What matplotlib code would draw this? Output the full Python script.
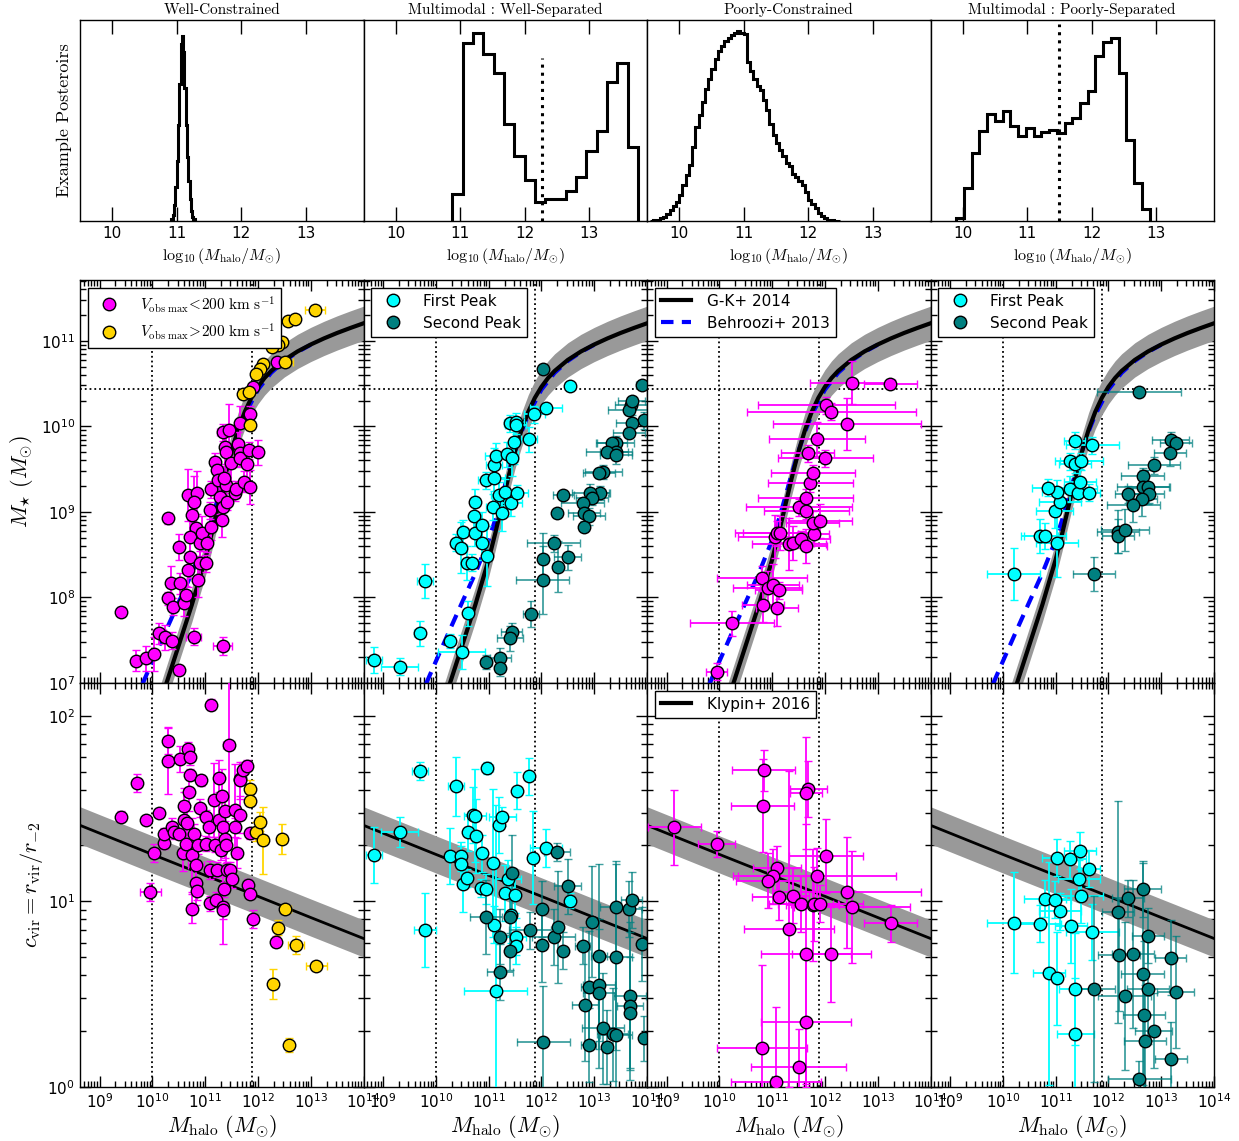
"""Halo-mass posteriors, stellar-mass/halo-mass and concentration/halo-mass
panels for the four posterior classes."""
import numpy as np
import matplotlib
matplotlib.use("Agg")
import matplotlib.pyplot as plt
from matplotlib.lines import Line2D
from matplotlib.ticker import LogLocator, NullFormatter, FixedLocator

# ---------------------------------------------------------------- posteriors
# normalised step-histogram heights (fraction of panel height), log10 Mhalo bins
post_wc_edges = np.arange(10.90, 11.301, 0.02)
post_wc = [0.0, 0.01, 0.03, 0.08, 0.17, 0.30, 0.48, 0.68, 0.88, 0.92,
           0.84, 0.66, 0.48, 0.32, 0.20, 0.11, 0.05, 0.02, 0.01, 0.0]

post_mws_edges = np.arange(10.88, 13.77, 0.16)
post_mws = [0.132, 0.886, 0.936, 0.831, 0.736, 0.484, 0.324, 0.203, 0.096,
            0.107, 0.111, 0.150, 0.217, 0.349, 0.446, 0.691, 0.787, 0.369]
post_mws_split = 12.27

post_pc_edges = np.arange(9.55, 12.501, 0.05)
post_pc = [0.002, 0.003, 0.007, 0.013, 0.021, 0.035, 0.055, 0.074, 0.096, 0.129,
           0.179, 0.228, 0.278, 0.369, 0.468, 0.526, 0.592, 0.658, 0.707, 0.757,
           0.807, 0.848, 0.873, 0.894, 0.911, 0.924, 0.937, 0.944, 0.934, 0.931,
           0.790, 0.745, 0.707, 0.674, 0.653, 0.600, 0.550, 0.481, 0.426, 0.388,
           0.355, 0.322, 0.289, 0.273, 0.236, 0.217, 0.200, 0.179, 0.145, 0.104,
           0.084, 0.063, 0.038, 0.025, 0.013, 0.007, 0.003, 0.002, 0.0]

post_mps_edges = np.arange(9.90, 12.91, 0.12)
post_mps = [0.013, 0.162, 0.340, 0.446, 0.531, 0.498, 0.547, 0.473, 0.421,
            0.463, 0.421, 0.445, 0.451, 0.438, 0.488, 0.512, 0.587, 0.645,
            0.820, 0.889, 0.909, 0.736, 0.402, 0.190, 0.058]
post_mps_split = 11.50

# ------------------------------------------------------------ model relations
gk_logmh = [9.8, 10.0, 10.25, 10.5, 10.75, 11.0, 11.125, 11.25, 11.375, 11.5,
            11.625, 11.75, 11.875, 12.0, 12.125, 12.25, 12.5, 12.75, 13.0,
            13.25, 13.5, 13.75, 14.0]
gk_logms = [6.10, 6.485, 6.964, 7.440, 7.917, 8.441, 8.748, 9.078, 9.406, 9.706,
            9.961, 10.168, 10.332, 10.461, 10.564, 10.647, 10.776, 10.875, 10.956,
            11.027, 11.091, 11.149, 11.204]
gk_scatter = 0.2

b13_logmh = [9.5, 9.75, 10.0, 10.25, 10.5, 10.75, 11.0, 11.125, 11.25, 11.375,
             11.5, 11.625, 11.75, 12.0, 12.25, 12.5, 12.75, 13.0]
b13_logms = [6.548, 6.900, 7.252, 7.601, 7.945, 8.285, 8.670, 8.909, 9.176, 9.450,
             9.709, 9.939, 10.134, 10.428, 10.625, 10.764, 10.869, 10.953]

k16_logmh = [8.6, 10.0, 11.0, 12.0, 13.0, 14.0]
k16_logc = [1.413, 1.253, 1.140, 1.027, 0.913, 0.800]
k16_scatter = 0.1

mh_ref = [10.0, 11.88]
ms_ref = 10.44

# ----------------------------------------------------------- galaxy samples
# columns: log Mhalo, log Mstar (or log c), error in log Mhalo, error in log y
wc_slow_ms = np.array([
    [9.402, 7.833, 0.0, 0.05], [9.693, 7.261, 0.0, 0.12], [9.876, 7.288, 0.0, 0.15],
    [10.034, 7.339, 0.0, 0.2], [10.135, 7.58, 0.12, 0.12], [10.243, 7.533, 0.05, 0.15],
    [10.369, 7.495, 0.0, 0.1], [10.306, 7.989, 0.0, 0.08], [10.401, 7.892, 0.0, 0.1],
    [10.496, 7.152, 0.05, 0.05], [10.781, 7.541, 0.15, 0.1], [11.331, 7.432, 0.18, 0.1],
    [10.306, 8.924, 0.0, 0.06], [10.496, 8.593, 0.0, 0.15], [10.35, 8.164, 0.0, 0.2],
    [10.528, 8.164, 0.0, 0.12], [10.591, 7.931, 0.0, 0.15], [10.641, 8.028, 0.0, 0.1],
    [10.673, 8.32, 0.0, 0.2], [10.717, 8.476, 0.0, 0.25], [10.667, 9.196, 0.0, 0.3],
    [10.844, 9.224, 0.0, 0.25], [10.781, 9.118, 0.0, 0.3], [10.749, 8.963, 0.0, 0.2],
    [10.831, 8.807, 0.0, 0.15], [10.717, 8.709, 0.0, 0.25], [10.907, 8.632, 0.0, 0.15],
    [10.939, 8.748, 0.0, 0.2], [10.894, 8.398, 0.0, 0.15], [10.856, 8.203, 0.0, 0.2],
    [11.021, 8.398, 0.0, 0.1], [11.033, 8.632, 0.0, 0.1], [11.109, 8.826, 0.0, 0.15],
    [11.084, 9.021, 0.0, 0.1], [11.109, 9.262, 0.1, 0.1], [11.192, 9.586, 0.0, 0.1],
    [11.223, 9.488, 0.0, 0.12], [11.236, 9.371, 0.0, 0.15], [11.287, 9.177, 0.0, 0.2],
    [11.318, 8.904, 0.0, 0.2], [11.337, 9.06, 0.0, 0.1], [11.413, 9.118, 0.0, 0.1],
    [11.388, 9.313, 0.0, 0.15], [11.362, 9.391, 0.0, 0.15], [11.331, 9.928, 0.1, 0.1],
    [11.445, 9.956, 0.1, 0.3], [11.381, 9.761, 0.0, 0.2], [11.394, 9.694, 0.0, 0.25],
    [11.495, 9.566, 0.0, 0.2], [11.559, 9.224, 0.0, 0.1], [11.578, 9.262, 0.0, 0.1],
    [11.616, 9.788, 0.0, 0.15], [11.653, 10.033, 0.0, 0.2], [11.666, 9.683, 0.0, 0.15],
    [11.653, 9.625, 0.0, 0.1], [11.729, 9.352, 0.0, 0.12], [11.792, 9.558, 0.0, 0.2],
    [11.824, 9.722, 0.0, 0.1], [11.856, 9.294, 0.0, 0.2], [11.843, 10.143, 0.0, 0.1],
    [11.995, 9.694, 0.0, 0.15], [11.906, 10.462, 0.0, 0.05], [12.362, 10.754, 0.0, 0.05],
])
wc_fast_ms = np.array([
    [13.09, 11.365, 0.19, 0.0], [12.564, 11.233, 0.0, 0.0], [12.71, 11.252, 0.0, 0.0],
    [12.457, 10.988, 0.0, 0.0], [12.374, 10.949, 0.0, 0.0], [12.267, 10.929, 0.0, 0.0],
    [12.096, 10.727, 0.0, 0.05], [12.033, 10.668, 0.0, 0.0], [11.97, 10.606, 0.0, 0.0],
    [12.52, 10.746, 0.15, 0.0], [11.717, 10.376, 0.0, 0.0], [11.824, 10.403, 0.0, 0.0],
    [11.843, 10.014, 0.0, 0.06],
])
wc_slow_c = np.array([
    [9.408, 1.457, 0.0, 0.03], [9.705, 1.637, 0.0, 0.05], [9.876, 1.439, 0.0, 0.02],
    [9.958, 1.051, 0.2, 0.05], [10.04, 1.260, 0.0, 0.05], [10.135, 1.475, 0.0, 0.02],
    [10.23, 1.314, 0.0, 0.03], [10.23, 1.364, 0.0, 0.03], [10.306, 1.862, 0.0, 0.07],
    [10.306, 1.757, 0.0, 0.18], [10.369, 1.398, 0.0, 0.05], [10.413, 1.376, 0.0, 0.04],
    [10.496, 1.364, 0.0, 0.03], [10.515, 1.768, 0.0, 0.07], [10.578, 1.263, 0.0, 0.1],
    [10.591, 1.439, 0.0, 0.15], [10.604, 1.511, 0.0, 0.1], [10.629, 1.31, 0.0, 0.08],
    [10.654, 1.421, 0.0, 0.1], [10.667, 1.82, 0.0, 0.04], [10.686, 1.587, 0.0, 0.1],
    [10.717, 1.777, 0.0, 0.04], [10.717, 1.682, 0.0, 0.03], [10.749, 0.961, 0.0, 0.08],
    [10.749, 1.251, 0.0, 0.2], [10.793, 1.364, 0.0, 0.05], [10.831, 1.197, 0.15, 0.1],
    [10.831, 1.098, 0.0, 0.12], [10.844, 1.058, 0.0, 0.05], [10.856, 1.305, 0.0, 0.05],
    [10.907, 1.502, 0.0, 0.05], [10.926, 1.651, 0.0, 0.03], [11.015, 1.452, 0.0, 0.04],
    [11.015, 1.31, 0.0, 0.04], [11.065, 1.398, 0.0, 0.05], [11.097, 1.17, 0.0, 0.05],
    [11.097, 0.99, 0.0, 0.04], [11.109, 2.059, 0.0, 0.03], [11.173, 1.547, 0.0, 0.2],
    [11.192, 1.305, 0.0, 0.04], [11.211, 1.008, 0.0, 0.04], [11.223, 1.17, 0.12, 0.04],
    [11.255, 1.664, 0.0, 0.1], [11.255, 1.439, 0.0, 0.15], [11.299, 1.274, 0.0, 0.05],
    [11.318, 1.565, 0.0, 0.15], [11.337, 1.4, 0.0, 0.1], [11.35, 1.066, 0.0, 0.04],
    [11.337, 0.969, 0.1, 0.2], [11.337, 0.954, 0.0, 0.05], [11.369, 1.488, 0.0, 0.08],
    [11.381, 1.335, 0.0, 0.1], [11.394, 1.305, 0.0, 0.1], [11.413, 1.17, 0.0, 0.04],
    [11.445, 1.84, 0.1, 0.35], [11.464, 1.17, 0.0, 0.04], [11.508, 1.12, 0.0, 0.05],
    [11.559, 1.398, 0.0, 0.05], [11.571, 1.49, 0.0, 0.25], [11.603, 1.26, 0.0, 0.08],
    [11.654, 1.659, 0.0, 0.03], [11.666, 1.651, 0.0, 0.1], [11.666, 1.466, 0.0, 0.1],
    [11.717, 1.709, 0.0, 0.04], [11.792, 1.73, 0.0, 0.03], [11.805, 1.089, 0.0, 0.03],
    [11.843, 1.04, 0.0, 0.03], [11.856, 1.367, 0.0, 0.03], [11.906, 0.906, 0.0, 0.05],
    [12.349, 0.782, 0.0, 0.03],
])
wc_fast_c = np.array([
    [11.843, 1.606, 0.0, 0.05], [11.843, 1.542, 0.0, 0.03], [11.97, 1.376, 0.0, 0.05],
    [12.046, 1.43, 0.0, 0.05], [12.096, 1.328, 0.0, 0.18], [12.457, 1.337, 0.0, 0.08],
    [12.52, 0.961, 0.1, 0.0], [12.38, 0.859, 0.0, 0.04], [12.729, 0.765, 0.15, 0.05],
    [13.108, 0.652, 0.2, 0.0], [12.286, 0.555, 0.0, 0.08], [12.583, 0.226, 0.0, 0.04],
])

mws_first_ms = np.array([
    [8.826, 7.269, 0.15, 0.15], [9.32, 7.191, 0.35, 0.1], [9.794, 8.195, 0.15, 0.2],
    [9.693, 7.58, 0.1, 0.15], [10.268, 7.491, 0.1, 0.08], [10.49, 7.366, 0.45, 0.2],
    [10.616, 7.814, 0.0, 0.15], [10.388, 8.639, 0.1, 0.1], [10.483, 8.581, 0.1, 0.3],
    [10.515, 8.76, 0.1, 0.15], [10.597, 8.406, 0.0, 0.2], [10.692, 8.406, 0.0, 0.1],
    [10.743, 8.748, 0.1, 0.15], [10.724, 8.951, 0.0, 0.15], [10.737, 9.118, 0.0, 0.15],
    [10.882, 8.846, 0.1, 0.15], [10.882, 8.632, 0.1, 0.2], [10.977, 8.484, 0.0, 0.35],
    [10.945, 9.371, 0.15, 0.1], [11.091, 9.06, 0.15, 0.15], [11.103, 9.391, 0.2, 0.15],
    [11.103, 9.547, 0.15, 0.2], [11.135, 9.652, 0.2, 0.15], [11.198, 9.196, 0.15, 0.15],
    [11.262, 8.982, 0.1, 0.2], [11.306, 9.235, 0.1, 0.15], [11.357, 9.671, 0.2, 0.15],
    [11.432, 9.099, 0.2, 0.15], [11.451, 9.625, 0.1, 0.2], [11.483, 9.812, 0.1, 0.25],
    [11.40, 10.033, 0.1, 0.1], [11.515, 10.053, 0.15, 0.1], [11.515, 10.014, 0.2, 0.1],
    [11.547, 9.216, 0.2, 0.1], [11.767, 9.847, 0.15, 0.15], [11.862, 10.143, 0.2, 0.1],
    [12.084, 10.217, 0.3, 0.05], [12.545, 10.474, 0.1, 0.0],
])
mws_second_ms = np.array([
    [12.033, 10.668, 0.0, 0.0], [13.899, 10.481, 0.1, 0.0], [13.696, 10.248, 0.3, 0.05],
    [13.664, 10.189, 0.4, 0.05], [13.709, 10.298, 0.25, 0.05], [13.937, 10.072, 0.2, 0.1],
    [13.709, 10.033, 0.3, 0.1], [13.664, 9.924, 0.3, 0.05], [13.412, 9.808, 0.35, 0.08],
    [13.33, 9.80, 0.3, 0.05], [13.418, 9.702, 0.3, 0.1], [13.241, 9.702, 0.4, 0.05],
    [13.418, 9.664, 0.3, 0.1], [13.171, 9.469, 0.35, 0.08], [13.095, 9.449, 0.3, 0.05],
    [13.108, 9.224, 0.2, 0.08], [12.925, 9.224, 0.35, 0.1], [12.956, 9.157, 0.3, 0.08],
    [12.779, 9.107, 0.4, 0.05], [12.412, 9.196, 0.2, 0.05], [12.811, 8.99, 0.3, 0.1],
    [12.906, 8.951, 0.3, 0.1], [12.811, 8.826, 0.0, 0.05], [12.292, 8.982, 0.0, 0.03],
    [12.229, 8.632, 0.5, 0.1], [12.027, 8.453, 0.0, 0.3], [12.495, 8.468, 0.25, 0.15],
    [12.318, 8.359, 0.0, 0.3], [12.027, 8.203, 0.5, 0.4], [11.799, 7.806, 0.15, 0.15],
    [11.438, 7.60, 0.2, 0.1], [11.406, 7.522, 0.25, 0.15], [11.217, 7.288, 0.2, 0.12],
    [11.217, 7.179, 0.0, 0.1], [10.958, 7.249, 0.1, 0.08],
])
mws_first_c = np.array([
    [8.826, 1.251, 0.15, 0.15], [9.32, 1.373, 0.35, 0.08], [9.693, 1.703, 0.15, 0.05],
    [9.794, 0.846, 0.2, 0.2], [10.268, 1.245, 0.0, 0.15], [10.388, 1.619, 0.15, 0.16],
    [10.483, 1.242, 0.0, 0.08], [10.483, 1.2, 0.0, 0.1], [10.515, 1.093, 0.0, 0.15],
    [10.597, 1.125, 0.0, 0.05], [10.616, 1.371, 0.0, 0.1], [10.705, 1.466, 0.1, 0.15],
    [10.743, 1.461, 0.2, 0.25], [10.756, 1.35, 0.0, 0.2], [10.882, 1.26, 0.0, 0.1],
    [10.85, 1.071, 0.1, 0.05], [10.945, 1.067, 0.1, 0.08], [10.977, 1.718, 0.1, 0.03],
    [11.091, 1.206, 0.0, 0.4], [11.103, 0.873, 0.1, 0.1], [11.135, 0.518, 0.6, 1.0],
    [11.198, 1.412, 0.0, 0.15], [11.262, 1.457, 0.25, 0.05], [11.306, 1.044, 0.0, 0.15],
    [11.369, 1.121, 0.25, 0.1], [11.42, 0.927, 0.0, 0.15], [11.496, 1.035, 0.0, 0.1],
    [11.515, 0.81, 0.2, 0.1], [11.515, 0.76, 0.0, 0.1], [11.547, 1.597, 0.0, 0.1],
    [11.767, 1.673, 0.0, 0.1], [11.85, 1.236, 0.0, 0.25], [12.084, 1.287, 0.3, 0.1],
    [12.545, 1.003, 0.0, 0.04],
])
mws_second_c = np.array([
    [10.945, 0.915, 0.3, 0.2], [11.217, 0.81, 0.0, 0.15], [11.217, 0.618, 0.25, 0.15],
    [11.40, 0.73, 0.0, 0.1], [11.438, 1.155, 0.0, 0.2], [11.406, 0.918, 0.0, 0.1],
    [11.786, 0.843, 0.4, 0.1], [12.02, 0.958, 0.0, 0.15], [12.02, 0.765, 0.0, 0.2],
    [12.039, 0.244, 0.5, 0.3], [12.229, 0.807, 0.4, 0.15], [12.318, 0.861, 0.0, 0.3],
    [12.292, 1.265, 0.25, 0.05], [12.412, 0.735, 0.0, 0.1], [12.495, 1.08, 0.25, 0.15],
    [12.779, 0.762, 0.15, 0.1], [12.824, 0.442, 0.25, 0.3], [12.906, 0.541, 0.15, 0.3],
    [12.893, 0.226, 0.15, 0.2], [12.956, 0.891, 0.0, 0.3], [13.095, 0.703, 0.15, 0.5],
    [13.095, 0.55, 0.3, 0.3], [13.095, 0.505, 0.3, 0.4], [13.171, 0.316, 0.4, 0.3],
    [13.241, 0.214, 0.0, 0.2], [13.348, 0.284, 0.3, 0.25], [13.412, 0.28, 0.3, 0.4],
    [13.412, 0.967, 0.3, 0.25], [13.412, 0.699, 0.3, 0.5], [13.664, 0.958, 0.25, 0.15],
    [13.709, 1.008, 0.2, 0.15], [13.683, 0.491, 0.3, 0.4], [13.683, 0.437, 0.25, 0.4],
    [13.683, 0.401, 0.0, 0.3], [13.905, 0.771, 0.0, 0.2], [13.937, 0.262, 0.0, 0.12],
])

pc_ms = np.array([
    [9.952, 7.132, 0.2, 0.1], [10.237, 7.697, 0.8, 0.15], [10.825, 7.911, 0.4, 0.2],
    [11.09, 7.872, 0.4, 0.2], [10.806, 8.223, 0.85, 0.15], [10.913, 8.106, 0.65, 0.2],
    [11.015, 8.145, 0.5, 0.25], [11.122, 8.086, 0.45, 0.1], [11.312, 8.624, 0.7, 0.3],
    [11.394, 8.639, 0.4, 0.2], [11.546, 8.678, 0.55, 0.1], [11.641, 8.6, 0.4, 0.2],
    [11.059, 8.71, 0.7, 0.25], [11.09, 8.748, 0.8, 0.15], [11.154, 8.756, 0.7, 0.2],
    [11.786, 8.741, 0.3, 0.1], [11.767, 8.865, 0.5, 0.15], [11.913, 8.896, 0.6, 0.2],
    [11.508, 9.052, 1.0, 0.1], [11.647, 9.013, 0.8, 0.1], [11.641, 9.165, 0.9, 0.1],
    [11.723, 9.333, 0.8, 0.1], [11.773, 9.449, 0.8, 0.1], [11.672, 9.683, 0.5, 0.1],
    [12.008, 9.625, 0.9, 0.1], [11.85, 9.85, 0.9, 0.2], [12.419, 10.026, 1.4, 0.3],
    [12.027, 10.248, 1.3, 0.1], [12.122, 10.17, 1.6, 0.1], [12.52, 10.512, 0.8, 0.25],
    [13.241, 10.493, 0.5, 0.0],
])
pc_c = np.array([
    [9.149, 1.398, 0.5, 0.2], [9.952, 1.308, 0.35, 0.07], [10.837, 1.705, 0.6, 0.11],
    [10.819, 1.515, 0.6, 0.25], [11.685, 1.606, 0.35, 0.15], [11.641, 1.583, 0.3, 0.3],
    [12.027, 1.245, 0.7, 0.2], [11.09, 1.179, 0.45, 0.12], [11.015, 1.134, 0.75, 0.15],
    [10.92, 1.112, 0.6, 0.15], [11.85, 1.138, 1.5, 0.15], [11.122, 1.021, 0.5, 0.12],
    [11.394, 1.031, 0.3, 0.15], [11.546, 0.987, 0.6, 0.15], [11.767, 0.981, 0.5, 0.3],
    [11.799, 0.987, 0.45, 0.2], [11.913, 0.987, 0.8, 0.1], [12.419, 1.048, 1.4, 0.3],
    [12.52, 0.969, 1.1, 0.3], [13.247, 0.882, 0.5, 0.1], [11.325, 0.85, 0.85, 0.85],
    [11.641, 0.717, 0.85, 0.7], [12.122, 0.717, 0.75, 0.26], [11.647, 0.352, 0.85, 0.35],
    [10.806, 0.208, 0.85, 0.45], [11.508, 0.11, 0.9, 0.2], [11.078, 0.029, 0.85, 0.4],
])

mps_first_ms = np.array([
    [10.205, 8.273, 0.5, 0.3], [10.698, 8.721, 0.35, 0.2], [10.806, 8.721, 0.4, 0.15],
    [11.027, 8.639, 0.4, 0.4], [10.983, 9.013, 0.35, 0.2], [11.078, 9.118, 0.4, 0.1],
    [11.034, 9.227, 0.3, 0.15], [10.856, 9.282, 0.3, 0.1], [11.28, 9.266, 0.5, 0.15],
    [11.432, 9.224, 0.3, 0.1], [11.634, 9.224, 0.2, 0.1], [11.457, 9.352, 0.3, 0.15],
    [11.28, 9.593, 0.3, 0.1], [11.369, 9.558, 0.3, 0.1], [11.489, 9.593, 0.4, 0.1],
    [11.363, 9.831, 0.2, 0.1], [11.697, 9.78, 0.5, 0.1],
])
mps_second_ms = np.array([
    [12.583, 10.403, 0.8, 0.0], [13.178, 9.839, 0.35, 0.1], [13.279, 9.8, 0.3, 0.05],
    [13.165, 9.683, 0.3, 0.15], [12.862, 9.547, 0.5, 0.1], [12.646, 9.418, 0.4, 0.1],
    [12.659, 9.294, 0.5, 0.2], [12.754, 9.294, 0.4, 0.2], [12.374, 9.208, 0.25, 0.1],
    [12.76, 9.204, 0.3, 0.1], [12.627, 9.149, 0.3, 0.2], [12.469, 9.079, 0.5, 0.2],
    [12.185, 8.768, 0.4, 0.25], [12.185, 8.717, 0.3, 0.2], [12.311, 8.787, 0.45, 0.25],
    [11.723, 8.273, 0.4, 0.2],
])
mps_first_c = np.array([
    [10.205, 0.886, 0.5, 0.27], [10.698, 0.879, 0.4, 0.1], [10.793, 1.013, 0.4, 0.1],
    [10.869, 0.613, 0.3, 0.6], [10.983, 1.008, 0.3, 0.1], [11.034, 1.236, 0.3, 0.1],
    [11.034, 0.586, 0.0, 0.25], [11.078, 0.947, 0.4, 0.1], [11.28, 1.227, 0.3, 0.1],
    [11.287, 0.868, 0.3, 0.2], [11.369, 0.527, 0.3, 0.3], [11.369, 0.286, 0.35, 0.3],
    [11.438, 1.121, 0.4, 0.1], [11.457, 1.272, 0.3, 0.1], [11.489, 1.031, 0.4, 0.15],
    [11.634, 1.175, 0.2, 0.1], [11.697, 0.834, 0.5, 0.15],
])
mps_second_c = np.array([
    [11.729, 0.527, 0.4, 0.5], [12.185, 0.943, 0.3, 0.6], [12.197, 0.71, 0.4, 0.3],
    [12.311, 0.491, 0.5, 0.4], [12.374, 1.017, 0.3, 0.1], [12.469, 0.717, 0.4, 0.4],
    [12.583, 0.041, 0.6, 0.1], [12.646, 1.067, 0.35, 0.15], [12.646, 0.609, 0.4, 0.6],
    [12.672, 0.388, 0.4, 0.4], [12.691, 0.25, 0.4, 0.3], [12.754, 0.816, 0.3, 0.15],
    [12.754, 0.53, 0.4, 0.3], [12.862, 0.304, 0.35, 0.2], [13.178, 0.697, 0.3, 0.2],
    [13.184, 0.149, 0.3, 0.2], [13.279, 0.512, 0.35, 0.3],
])

TITLES = ["Well-Constrained", "Multimodal : Well-Separated",
          "Poorly-Constrained", "Multimodal : Poorly-Separated"]

MAGENTA = "#ff00ff"
GOLD = "#ffd500"
CYAN = "#00ffff"
TEAL = "#008080"
BAND = "0.6"

MS = 9


def plot_points(ax, rows, color, ecolor, z=5):
    lx, ly, ex, ey = rows.T
    x, y = 10 ** lx, 10 ** ly
    xerr = [x - 10 ** (lx - ex), 10 ** (lx + ex) - x]
    yerr = [y - 10 ** (ly - ey), 10 ** (ly + ey) - y]
    ax.errorbar(x, y, xerr=xerr, yerr=yerr, fmt="o", ms=MS, mfc=color,
                mec="k", mew=1.0, ecolor=ecolor, elinewidth=1.3, capsize=3,
                capthick=1.3, zorder=z)


def style_log(ax):
    for axis in (ax.xaxis, ax.yaxis):
        axis.set_major_locator(LogLocator(base=10, numticks=30))
        axis.set_minor_locator(LogLocator(base=10, subs=np.arange(2, 10), numticks=300))
        axis.set_minor_formatter(NullFormatter())
    ax.tick_params(which="both", direction="in", top=True, right=True,
                   labelsize=11)
    ax.tick_params(which="major", length=8, width=1)
    ax.tick_params(which="minor", length=4, width=1)


plt.rcParams["axes.linewidth"] = 1.0
plt.rcParams["legend.fancybox"] = False
plt.rcParams["legend.edgecolor"] = "k"
plt.rcParams["legend.framealpha"] = 1.0

fig = plt.figure(figsize=(12.39, 11.41), dpi=100)
FW, FH = 1239.0, 1141.0
x0, colw = 80 / FW, 283.5 / FW

top_axes, mid_axes, bot_axes = [], [], []
for i in range(4):
    left = x0 + i * colw
    top_axes.append(fig.add_axes([left, 1 - 221 / FH, colw, 201 / FH]))
    mid_axes.append(fig.add_axes([left, 1 - 683 / FH, colw, 403 / FH]))
    bot_axes.append(fig.add_axes([left, 1 - 1087 / FH, colw, 404 / FH]))

# ---------------------------------------------------------------- top row
posts = [(post_wc_edges, post_wc, None, None),
         (post_mws_edges, post_mws, post_mws_split, 0.81),
         (post_pc_edges, post_pc, None, None),
         (post_mps_edges, post_mps, post_mps_split, 0.98)]
for i, (ax, (edges, heights, split, stop)) in enumerate(zip(top_axes, posts)):
    ax.stairs(heights, edges[:len(heights) + 1], color="k", lw=2.2)
    if split is not None:
        ax.plot([split, split], [0, stop], color="k", ls=":", lw=2.2)
    ax.set_xlim(9.5, 13.9)
    ax.set_ylim(0, 1)
    ax.set_yticks([])
    ax.xaxis.set_major_locator(FixedLocator([10, 11, 12, 13]))
    ax.tick_params(direction="in", top=True, length=10, width=1, labelsize=11)
    ax.set_xlabel(r"$\log_{10}(M_{\rm halo}/M_{\odot})$", fontsize=11.5,
                  math_fontfamily="cm", labelpad=4)
    ax.set_title(TITLES[i], fontsize=11, family="cmr10", pad=4)
top_axes[0].set_ylabel("Example Posteroirs", fontsize=13, family="cmr10",
                       labelpad=6)

# ---------------------------------------------------------------- SMHM row
mh_gk = 10 ** np.asarray(gk_logmh)
ms_gk = np.asarray(gk_logms)
for i, ax in enumerate(mid_axes):
    ax.set_xscale("log")
    ax.set_yscale("log")
    for m in mh_ref:
        ax.axvline(10 ** m, color="k", ls=":", lw=1.3, zorder=1)
    ax.axhline(10 ** ms_ref, color="k", ls=":", lw=1.3, zorder=1)
    ax.fill_between(mh_gk, 10 ** (ms_gk - gk_scatter), 10 ** (ms_gk + gk_scatter),
                    color=BAND, lw=0, zorder=2)
    ax.plot(10 ** np.asarray(b13_logmh), 10 ** np.asarray(b13_logms),
            color="b", ls="--", lw=3, dashes=(3, 2), zorder=3)
    ax.plot(mh_gk, 10 ** ms_gk, color="k", lw=3, zorder=3.5)
    ax.set_xlim(10 ** 8.63, 1e14)
    ax.set_ylim(1e7, 10 ** 11.71)
    style_log(ax)
    ax.tick_params(labelbottom=False, labelleft=(i == 0))

# ----------------------------------------------------------- c-M row
mh_k = 10 ** np.asarray(k16_logmh)
c_k = np.asarray(k16_logc)
for i, ax in enumerate(bot_axes):
    ax.set_xscale("log")
    ax.set_yscale("log")
    for m in mh_ref:
        ax.axvline(10 ** m, color="k", ls=":", lw=1.3, zorder=1)
    ax.fill_between(mh_k, 10 ** (c_k - k16_scatter), 10 ** (c_k + k16_scatter),
                    color=BAND, lw=0, zorder=2)
    ax.plot(mh_k, 10 ** c_k, color="k", lw=2, zorder=3)
    ax.set_xlim(10 ** 8.63, 1e14)
    ax.set_ylim(1, 150)
    style_log(ax)
    ax.tick_params(labelleft=(i == 0))
    ax.set_xlabel(r"$M_{\rm halo}\ (M_{\odot})$", fontsize=16,
                  math_fontfamily="cm", labelpad=2)

mid_axes[0].set_ylabel(r"$M_{\star}\ (M_{\odot})$", fontsize=16,
                       math_fontfamily="cm", labelpad=4)
bot_axes[0].set_ylabel(r"$c_{\rm vir} = r_{\rm vir}/r_{-2}$", fontsize=16,
                       math_fontfamily="cm", labelpad=2)

# ---------------------------------------------------------------- samples
teal_err = (0.0, 0.5, 0.5, 0.75)
plot_points(mid_axes[0], wc_slow_ms, MAGENTA, MAGENTA)
plot_points(mid_axes[0], wc_fast_ms, GOLD, GOLD)
plot_points(bot_axes[0], wc_slow_c, MAGENTA, MAGENTA)
plot_points(bot_axes[0], wc_fast_c, GOLD, GOLD)

plot_points(mid_axes[1], mws_first_ms, CYAN, CYAN)
plot_points(mid_axes[1], mws_second_ms, TEAL, teal_err)
plot_points(bot_axes[1], mws_first_c, CYAN, CYAN)
plot_points(bot_axes[1], mws_second_c, TEAL, teal_err)

plot_points(mid_axes[2], pc_ms, MAGENTA, MAGENTA)
plot_points(bot_axes[2], pc_c, MAGENTA, MAGENTA)

plot_points(mid_axes[3], mps_first_ms, CYAN, CYAN)
plot_points(mid_axes[3], mps_second_ms, TEAL, teal_err)
plot_points(bot_axes[3], mps_first_c, CYAN, CYAN)
plot_points(bot_axes[3], mps_second_c, TEAL, teal_err)

# ---------------------------------------------------------------- legends
def dot(color):
    return Line2D([], [], ls="none", marker="o", ms=MS, mfc=color, mec="k", mew=1)


leg_kw = dict(loc="upper left", fontsize=11, borderaxespad=0.5,
              handlelength=2.0, handletextpad=1.0, borderpad=0.4,
              labelspacing=0.45, numpoints=1)

leg = mid_axes[0].legend(
    [dot(MAGENTA), dot(GOLD)],
    [r"$V_{\rm obs\ max}\!<\!200\ \rm km\ s^{-1}$",
     r"$V_{\rm obs\ max}\!>\!200\ \rm km\ s^{-1}$"], **leg_kw)
for t in leg.get_texts():
    t.set_math_fontfamily("cm")
leg.set_zorder(10)

for ax in (mid_axes[1], mid_axes[3]):
    lg = ax.legend([dot(CYAN), dot(TEAL)], ["First Peak", "Second Peak"], **leg_kw)
    lg.set_zorder(10)

lg = mid_axes[2].legend(
    [Line2D([], [], color="k", lw=3),
     Line2D([], [], color="b", lw=3, ls="--", dashes=(3, 2))],
    ["G-K+ 2014", "Behroozi+ 2013"], **leg_kw)
lg.set_zorder(10)

lg = bot_axes[2].legend([Line2D([], [], color="k", lw=3)], ["Klypin+ 2016"], **leg_kw)
lg.set_zorder(10)

fig.savefig("out.png", dpi=100)
